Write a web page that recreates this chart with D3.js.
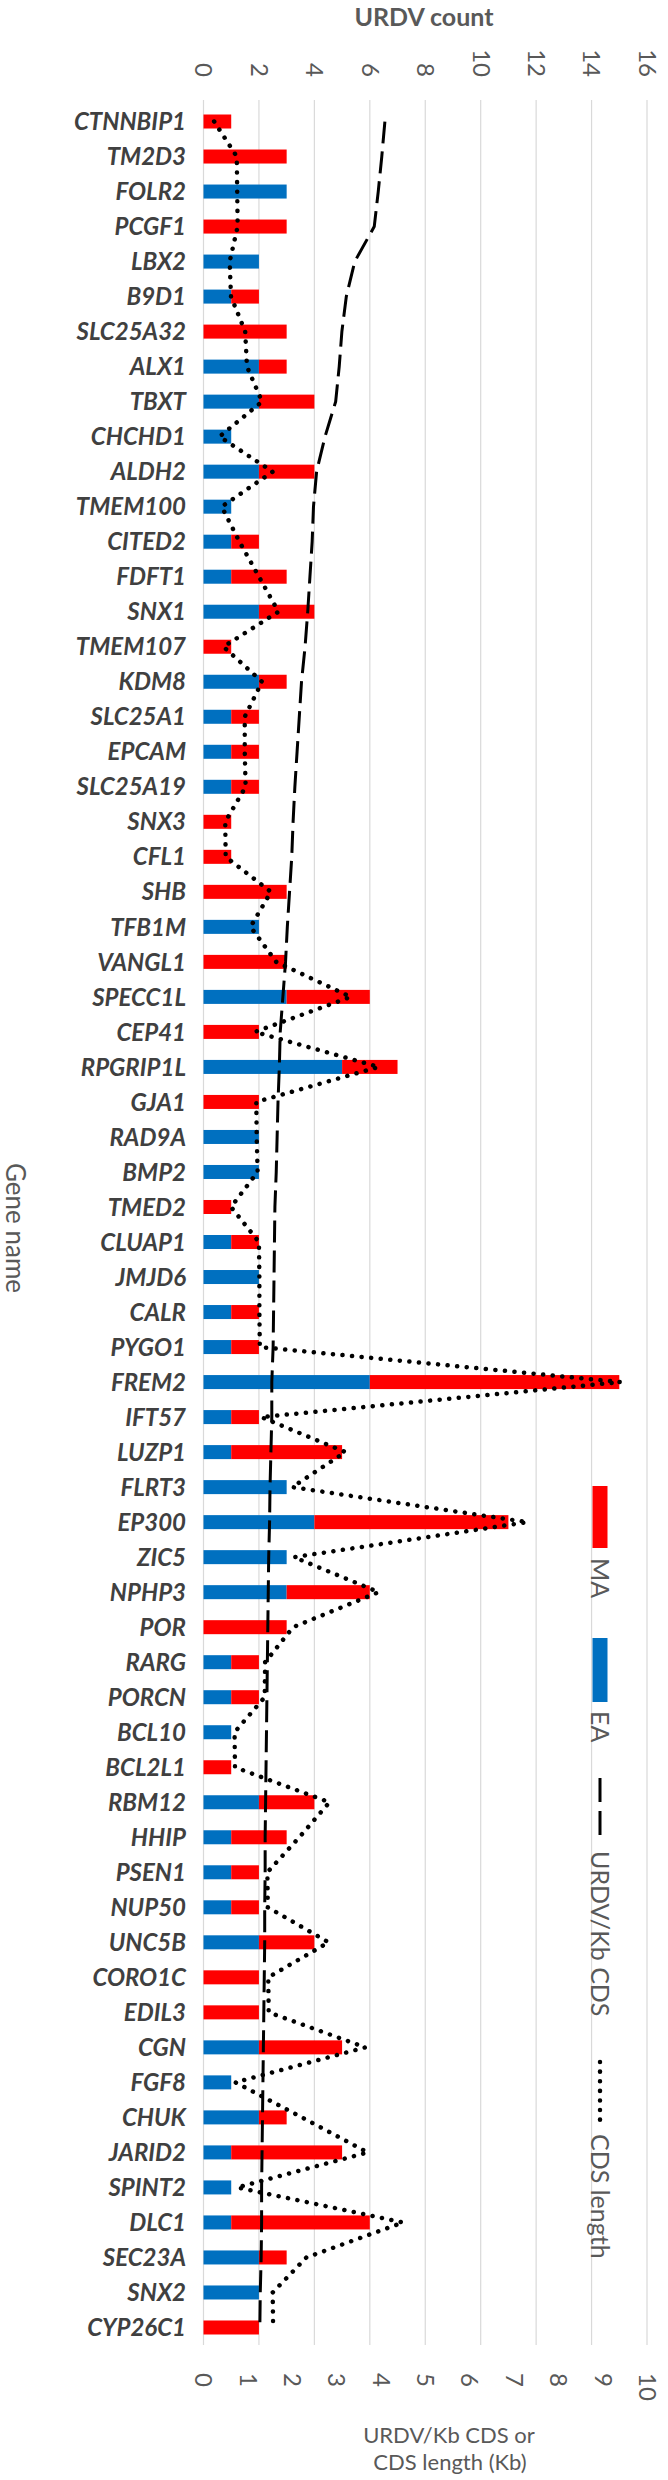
<!DOCTYPE html>
<html>
<head>
<meta charset="utf-8">
<script src="https://cdn.jsdelivr.net/npm/d3@7"></script>
<style>
  body { margin: 0; background: #fff; }
  text { font-family: Lato, "Open Sans", sans-serif; }
</style>
</head>
<body>
<script>
// gene order as in the figure (sorted by URDV/Kb CDS)
var genes = ["CTNNBIP1","TM2D3","FOLR2","PCGF1","LBX2","B9D1","SLC25A32","ALX1","TBXT","CHCHD1",
  "ALDH2","TMEM100","CITED2","FDFT1","SNX1","TMEM107","KDM8","SLC25A1","EPCAM","SLC25A19",
  "SNX3","CFL1","SHB","TFB1M","VANGL1","SPECC1L","CEP41","RPGRIP1L","GJA1","RAD9A",
  "BMP2","TMED2","CLUAP1","JMJD6","CALR","PYGO1","FREM2","IFT57","LUZP1","FLRT3",
  "EP300","ZIC5","NPHP3","POR","RARG","PORCN","BCL10","BCL2L1","RBM12","HHIP",
  "PSEN1","NUP50","UNC5B","CORO1C","EDIL3","CGN","FGF8","CHUK","JARID2","SPINT2",
  "DLC1","SEC23A","SNX2","CYP26C1"];

var eaCount = [0,0,3,0,2,1,0,2,2,1, 2,1,1,1,2,0,2,1,1,1, 0,0,0,2,0,3,0,5,0,2,
  2,0,1,2,1,1,6,1,1,3, 4,3,3,0,1,1,1,0,2,1, 1,1,2,0,0,2,1,2,1,1, 1,2,2,0];
var maCount = [1,3,0,3,0,1,3,1,2,0, 2,0,1,2,2,1,1,1,1,1, 1,1,3,0,3,3,2,2,2,0,
  0,1,1,0,1,1,9,1,4,0, 7,0,3,3,1,1,0,1,2,2, 1,1,2,2,2,3,0,1,4,0, 5,1,0,2];

var urdvPerKb = [4.09,4.02,3.94,3.85,3.41,3.22,3.12,3.06,2.98,2.74,
  2.55,2.48,2.45,2.40,2.35,2.29,2.21,2.16,2.11,2.06,
  2.02,1.99,1.94,1.89,1.85,1.79,1.73,1.71,1.68,1.66,
  1.64,1.61,1.60,1.59,1.58,1.57,1.54,1.54,1.52,1.50,
  1.49,1.47,1.46,1.45,1.44,1.43,1.42,1.41,1.40,1.39,
  1.39,1.38,1.38,1.37,1.36,1.35,1.34,1.33,1.32,1.31,
  1.31,1.30,1.28,1.27];
var cdsLength = [0.24,0.75,0.76,0.77,0.59,0.62,0.94,0.98,1.32,0.36,
  1.56,0.41,0.81,1.25,1.69,0.45,1.32,0.93,0.93,0.95,
  0.49,0.50,1.52,1.06,1.64,3.32,1.16,3.95,1.19,1.20,
  1.22,0.62,1.25,1.26,1.26,1.27,9.40,1.30,3.20,2.00,
  7.30,2.04,3.95,2.02,1.39,1.38,0.70,0.71,2.84,2.16,
  1.44,1.45,2.82,1.46,1.47,3.65,0.72,2.22,3.70,0.76,
  4.50,2.32,1.56,1.57];

var countTicks = [0,2,4,6,8,10,12,14,16];
var lengthTicks = [0,1,2,3,4,5,6,7,8,9,10];

var W = 668, H = 2480;
var blue = "#0070c0", red = "#ff0000", grey = "#595959";

var svg = d3.select("body").append("svg")
  .attr("width", W).attr("height", H);

var x = d3.scaleLinear().domain([0, 16]).range([203.5, 647]);
var x2 = d3.scaleLinear().domain([0, 10]).range([203.5, 647]);
var y = d3.scaleBand().domain(genes).range([104, 2345])
  .paddingInner(0.6).paddingOuter(0.3);
var cy = function(g) { return y(g) + y.bandwidth() / 2; };

// gridlines
svg.append("g").selectAll("line").data(countTicks).enter().append("line")
  .attr("x1", x).attr("x2", x)
  .attr("y1", 100).attr("y2", 2345)
  .attr("stroke", "#d9d9d9").attr("stroke-width", 1.2);

// top axis: URDV count
var xAxis = d3.axisTop(x).tickValues(countTicks).tickSize(0).tickPadding(0);
var gTop = svg.append("g").attr("transform", "translate(0,77)").call(xAxis);
gTop.select(".domain").remove();
gTop.selectAll("text")
  .attr("transform", "rotate(90)")
  .attr("x", 0).attr("y", 0).attr("dy", "0.36em")
  .style("text-anchor", "end")
  .style("font-size", "24px").style("font-family", "Lato, sans-serif")
  .attr("fill", grey);

// bottom axis: URDV/Kb CDS or CDS length
var xAxis2 = d3.axisBottom(x2).tickValues(lengthTicks).tickSize(0).tickPadding(0);
var gBot = svg.append("g").attr("transform", "translate(0,2373)").call(xAxis2);
gBot.select(".domain").remove();
gBot.selectAll("text")
  .attr("transform", "rotate(90)")
  .attr("x", 0).attr("y", 0).attr("dy", "0.36em")
  .style("text-anchor", "start")
  .style("font-size", "24px").style("font-family", "Lato, sans-serif")
  .attr("fill", grey);

// stacked bars
var bars = svg.append("g");
bars.selectAll("rect.ea").data(genes).enter().append("rect")
  .attr("class", "ea")
  .attr("x", x(0))
  .attr("y", function(g) { return y(g); })
  .attr("width", function(g, i) { return x(eaCount[i]) - x(0); })
  .attr("height", y.bandwidth())
  .attr("fill", blue);
bars.selectAll("rect.ma").data(genes).enter().append("rect")
  .attr("class", "ma")
  .attr("x", function(g, i) { return x(eaCount[i]); })
  .attr("y", function(g) { return y(g); })
  .attr("width", function(g, i) { return x(eaCount[i] + maCount[i]) - x(eaCount[i]); })
  .attr("height", y.bandwidth())
  .attr("fill", red);

// gene labels
svg.append("g").selectAll("text").data(genes).enter().append("text")
  .attr("x", 186).attr("y", cy)
  .attr("dy", "0.36em")
  .attr("text-anchor", "end")
  .style("font-size", "24px").style("font-weight", "bold").style("font-style", "italic")
  .attr("fill", "#404040")
  .text(function(g) { return g; });

// lines on the secondary axis
var line = function(vals) {
  return d3.line()
    .x(function(g, i) { return x2(vals[i]); })
    .y(function(g) { return cy(g); })(genes);
};
svg.append("path").attr("d", line(urdvPerKb))
  .attr("fill", "none").attr("stroke", "#000").attr("stroke-width", 3)
  .attr("stroke-dasharray", "22 8");
svg.append("path").attr("d", line(cdsLength))
  .attr("fill", "none").attr("stroke", "#000").attr("stroke-width", 4.5)
  .attr("stroke-linecap", "round").attr("stroke-dasharray", "0.1 9.5");

// titles
svg.append("text").attr("x", 424).attr("y", 26).attr("text-anchor", "middle")
  .style("font-size", "25px").style("font-weight", "bold").attr("fill", grey).text("URDV count");
svg.append("text").attr("x", 449).attr("y", 2443).attr("text-anchor", "middle")
  .style("font-size", "22px").attr("fill", grey).text("URDV/Kb CDS or");
svg.append("text").attr("x", 450).attr("y", 2470).attr("text-anchor", "middle")
  .style("font-size", "22px").attr("fill", grey).text("CDS length (Kb)");
svg.append("text")
  .attr("transform", "translate(15,1228) rotate(90)")
  .attr("dy", "0.36em").attr("text-anchor", "middle")
  .style("font-size", "26px").attr("fill", grey).text("Gene name");

// legend (vertical, rotated)
var lx = 600;
var legend = svg.append("g");
legend.append("rect").attr("x", lx - 7.5).attr("y", 1486).attr("width", 15).attr("height", 62).attr("fill", red);
legend.append("rect").attr("x", lx - 7.5).attr("y", 1638).attr("width", 15).attr("height", 64).attr("fill", blue);
legend.append("line").attr("x1", lx).attr("x2", lx).attr("y1", 1778).attr("y2", 1843)
  .attr("stroke", "#000").attr("stroke-width", 3).attr("stroke-dasharray", "24 9");
legend.append("line").attr("x1", lx).attr("x2", lx).attr("y1", 2062).attr("y2", 2123)
  .attr("stroke", "#000").attr("stroke-width", 4.5).attr("stroke-linecap", "round").attr("stroke-dasharray", "0.1 9.5");
var legendText = [["MA", 1558], ["EA", 1711], ["URDV/Kb CDS", 1851], ["CDS length", 2134]];
legend.selectAll("text").data(legendText).enter().append("text")
  .attr("transform", function(d) { return "translate(" + lx + "," + d[1] + ") rotate(90)"; })
  .attr("dy", "0.36em")
  .style("font-size", "25px").attr("fill", grey)
  .text(function(d) { return d[0]; });
</script>
</body>
</html>
